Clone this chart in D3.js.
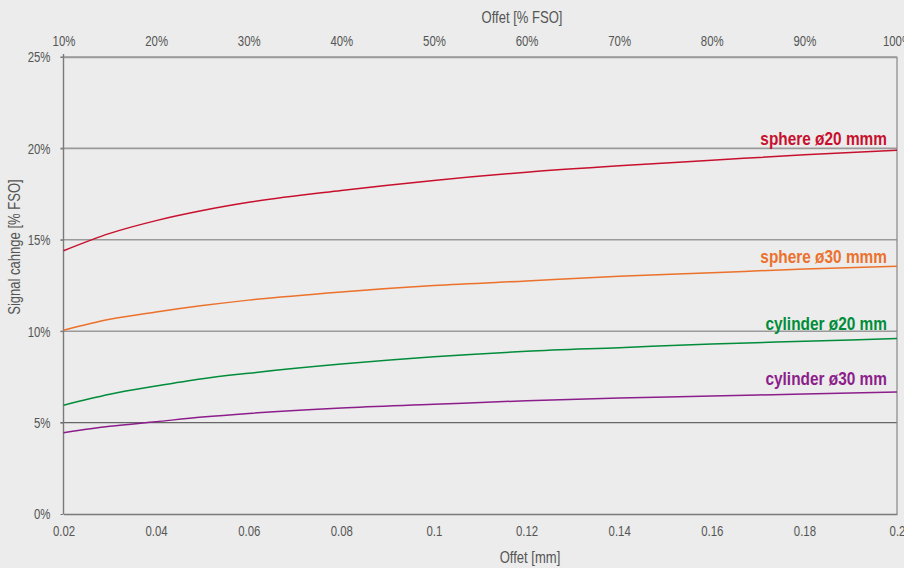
<!DOCTYPE html>
<html>
<head>
<meta charset="utf-8">
<script src="https://cdn.jsdelivr.net/npm/d3@7"></script>
<style>
  html, body { margin: 0; padding: 0; background: #ebeceb; }
  svg { display: block; }
  text { font-family: "Liberation Sans", Arial, sans-serif; }
</style>
</head>
<body>
<svg id="chart" width="904" height="568"></svg>
<script>
// ---- data ----
const offsetMm = [0.02, 0.03, 0.04, 0.05, 0.06, 0.08, 0.10, 0.12, 0.14, 0.16, 0.18, 0.20];
const sphere20 = [14.4, 15.35, 16.05, 16.6, 17.05, 17.7, 18.25, 18.7, 19.05, 19.35, 19.65, 19.9];
const sphere30 = [10.05, 10.65, 11.05, 11.4, 11.7, 12.15, 12.5, 12.75, 13.0, 13.2, 13.4, 13.55];
const cylinder20 = [5.95, 6.55, 7.0, 7.4, 7.7, 8.2, 8.6, 8.9, 9.1, 9.3, 9.45, 9.6];
const cylinder30 = [4.45, 4.8, 5.05, 5.3, 5.5, 5.8, 6.0, 6.2, 6.35, 6.45, 6.57, 6.67];
const seriesNames = ["sphere ø20 mmm", "sphere ø30 mmm", "cylinder ø20 mm", "cylinder ø30 mm"];
const seriesColors = ["#c8102e", "#ec712d", "#008c3a", "#8c1e8c"];
const bottomTicks = [0.02, 0.04, 0.06, 0.08, 0.1, 0.12, 0.14, 0.16, 0.18, 0.2];
const bottomTickLabels = ["0.02", "0.04", "0.06", "0.08", "0.1", "0.12", "0.14", "0.16", "0.18", "0.2"];
const topTicks = [10, 20, 30, 40, 50, 60, 70, 80, 90, 100];
const topTickLabels = ["10%", "20%", "30%", "40%", "50%", "60%", "70%", "80%", "90%", "100%"];
const yTicks = [0, 5, 10, 15, 20, 25];
const yTickLabels = ["0%", "5%", "10%", "15%", "20%", "25%"];

// ---- layout ----
const L = 63.5, R = 897, T = 57, B = 514;
const svg = d3.select("#chart");
const x = d3.scaleLinear().domain([0.02, 0.2]).range([L, R]);
const xTop = d3.scaleLinear().domain([10, 100]).range([L, R]);
const y = d3.scaleLinear().domain([0, 25]).range([B, T]);

// condense text horizontally (reference uses a condensed face)
function condense(sel, factor) {
  sel.each(function () {
    const w = this.getComputedTextLength();
    d3.select(this).attr("textLength", (w * factor).toFixed(2)).attr("lengthAdjust", "spacingAndGlyphs");
  });
}

// gridlines
const gridColor = d => d === 5 ? "#666" : "#9a9a9a";
svg.append("g").selectAll("line").data(yTicks.filter(v => v > 0)).join("line")
  .attr("x1", L - 3).attr("x2", R)
  .attr("y1", d => y(d)).attr("y2", d => y(d))
  .attr("stroke", gridColor)
  .attr("stroke-width", d => d === 5 ? 1.2 : 1.6);

// right border
svg.append("line").attr("x1", R).attr("x2", R).attr("y1", T).attr("y2", B)
  .attr("stroke", "#888").attr("stroke-width", 1.2);

// left axis
const yAxis = svg.append("g").attr("transform", `translate(${L},0)`)
  .call(d3.axisLeft(y).tickValues(yTicks).tickFormat((d, i) => yTickLabels[i]).tickSize(3).tickPadding(10));
yAxis.select(".domain").attr("stroke", "#7a7a7a").attr("stroke-width", 1.4).attr("d", `M0,${T - 3}V${B}`);
yAxis.selectAll(".tick line").attr("stroke", "#7a7a7a");
yAxis.selectAll("text").attr("fill", "#555").style("font-size", "15px").style("font-family", "'Liberation Sans', Arial, sans-serif");

// bottom axis
const xAxis = svg.append("g").attr("transform", `translate(0,${B})`)
  .call(d3.axisBottom(x).tickValues(bottomTicks).tickFormat((d, i) => bottomTickLabels[i]).tickSize(0).tickPadding(11));
xAxis.select(".domain").attr("stroke", "#7a7a7a").attr("stroke-width", 1.4);
xAxis.selectAll("text").attr("fill", "#555").style("font-size", "15px").style("font-family", "'Liberation Sans', Arial, sans-serif");

// top axis
const xAxisTop = svg.append("g").attr("transform", `translate(0,${T})`)
  .call(d3.axisTop(xTop).tickValues(topTicks).tickFormat((d, i) => topTickLabels[i]).tickSize(0).tickPadding(11));
xAxisTop.select(".domain").attr("stroke", "#9a9a9a").attr("stroke-width", 1.6);
xAxisTop.selectAll("text").attr("fill", "#555").style("font-size", "15px").style("font-family", "'Liberation Sans', Arial, sans-serif");

condense(yAxis.selectAll("text"), 0.76);
condense(xAxis.selectAll("text"), 0.76);
condense(xAxisTop.selectAll("text"), 0.76);

// axis titles
const titles = svg.append("g");
titles.append("text").attr("x", 522).attr("y", 23).attr("text-anchor", "middle")
  .attr("fill", "#555").style("font-size", "16.5px").text("Offet [% FSO]");
titles.append("text").attr("x", 530).attr("y", 563).attr("text-anchor", "middle")
  .attr("fill", "#555").style("font-size", "16.5px").text("Offet [mm]");
titles.append("text").attr("transform", "translate(20,247) rotate(-90)").attr("text-anchor", "middle")
  .attr("fill", "#555").style("font-size", "16.5px").text("Signal cahnge [% FSO]");
condense(titles.selectAll("text"), 0.79);

// lines
const allSeries = [sphere20, sphere30, cylinder20, cylinder30];
const line = d3.line().x((d, i) => x(offsetMm[i])).y(d => y(d)).curve(d3.curveMonotoneX);
svg.append("g").selectAll("path").data(allSeries).join("path")
  .attr("d", d => line(d))
  .attr("fill", "none")
  .attr("stroke", (d, i) => seriesColors[i])
  .attr("stroke-width", 1.5);

// series labels
const labelY = [145, 263, 330, 385];
const labels = svg.append("g").selectAll("text").data(seriesNames).join("text")
  .attr("x", 887).attr("y", (d, i) => labelY[i])
  .attr("text-anchor", "end")
  .attr("fill", (d, i) => seriesColors[i])
  .style("font-size", "17.5px").style("font-weight", "bold")
  .text(d => d);
condense(labels, 0.88);
</script>
</body>
</html>
